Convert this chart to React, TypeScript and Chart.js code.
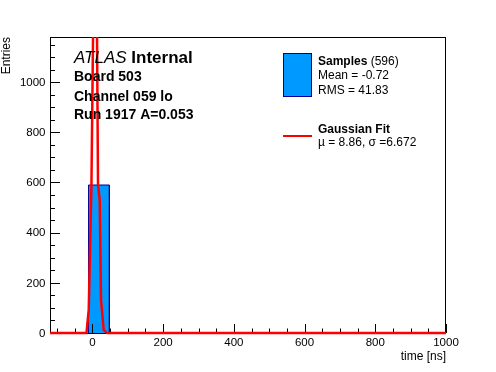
import React, { useEffect, useRef } from "react";
import { Chart, registerables } from "chart.js";

Chart.register(...registerables);

// Histogram bins (time in ns)
const binLow = [-11];
const binHigh = [48];
const binCounts = [590];

// Axis ranges & ticks
const xMin = -120;
const xMax = 1000;
const yMin = 0;
const yMax = 1180;
const xMajorStep = 200;
const xMinorStep = 50;
const yMajorStep = 200;
const yMinorStep = 50;
const yTickLabels = ["0", "200", "400", "600", "800", "1000"];

// Gaussian fit curve
const fitX = [-120, -16.9, -10.5, -6.8, -2.8, 1.7, 8.86, 13, 15.8, 20.6, 24.3, 31.9, 41.2, 1000];
const fitY = [0, 0, 92, 330, 590, 1180, 2000, 1180, 590, 530, 131, 12, 0, 0];

// Texts
const atlasLabel = "ATLAS";
const internalLabel = "Internal";
const infoLines = ["Board 503", "Channel 059 lo", "Run 1917 A=0.053"];
const samplesTitle = "Samples";
const samplesCount = " (596)";
const samplesStats = ["Mean = -0.72", "RMS = 41.83"];
const fitTitle = "Gaussian Fit";
const fitStats = "\u00b5 = 8.86, \u03c3 =6.672";
const xTitle = "time [ns]";
const yTitle = "Entries";

const FONT = "'Liberation Sans', Arial, Helvetica, sans-serif";
const BAR_FILL = "#0099ff";
const BAR_EDGE = "#000099";
const FIT_COLOR = "#ff0000";

function histPoints() {
  const pts: { x: number; y: number }[] = [{ x: xMin, y: 0 }];
  for (let i = 0; i < binCounts.length; i++) {
    pts.push({ x: binLow[i], y: 0 });
    pts.push({ x: binLow[i], y: binCounts[i] });
    pts.push({ x: binHigh[i], y: binCounts[i] });
    pts.push({ x: binHigh[i], y: 0 });
  }
  pts.push({ x: xMax, y: 0 });
  return pts;
}

const framePlugin = {
  id: "rootFrame",
  afterDatasetDraw(chart: any, args: any) {
    if (args.index !== 0) return;
    const ctx = chart.ctx;
    const { left, right, top, bottom } = chart.chartArea;
    const xs = chart.scales.x;
    const ys = chart.scales.y;
    ctx.save();
    ctx.strokeStyle = "#000";
    ctx.lineWidth = 1;
    ctx.strokeRect(left + 0.5, top + 0.5, right - left - 1, bottom - top);
    ctx.beginPath();
    for (let v = Math.ceil(xMin / xMinorStep) * xMinorStep; v <= xMax; v += xMinorStep) {
      const px = Math.round(xs.getPixelForValue(v)) + 0.5;
      const len = v % xMajorStep === 0 ? 9 : 4.5;
      ctx.moveTo(px, bottom);
      ctx.lineTo(px, bottom - len);
    }
    for (let v = yMin; v <= yMax; v += yMinorStep) {
      const py = Math.round(ys.getPixelForValue(v)) + 0.5;
      const len = v % yMajorStep === 0 ? 10 : 5;
      ctx.moveTo(left, py);
      ctx.lineTo(left + len, py);
    }
    ctx.stroke();
    ctx.restore();
  },
  afterDraw(chart: any) {
    const ctx = chart.ctx;
    const { left, right } = chart.chartArea;
    const ys = chart.scales.y;
    ctx.save();
    ctx.fillStyle = "#000";

    // y tick labels
    ctx.font = `11.5px ${FONT}`;
    ctx.textAlign = "right";
    ctx.textBaseline = "middle";
    yTickLabels.forEach((t) => {
      ctx.fillText(t, left - 4.5, ys.getPixelForValue(Number(t)) + 0.5);
    });

    ctx.textBaseline = "alphabetic";
    ctx.textAlign = "left";
    ctx.font = `italic 17px ${FONT}`;
    ctx.fillText(atlasLabel, 74, 63);
    const w1 = ctx.measureText(atlasLabel + " ").width;
    ctx.font = `bold 17px ${FONT}`;
    ctx.fillText(internalLabel, 74 + w1, 63);
    ctx.font = `bold 14px ${FONT}`;
    const baselines = [81, 100.5, 119];
    infoLines.forEach((t, i) => ctx.fillText(t, 74, baselines[i]));

    ctx.fillStyle = BAR_FILL;
    ctx.fillRect(283.5, 53.5, 28, 43);
    ctx.strokeStyle = BAR_EDGE;
    ctx.lineWidth = 1;
    ctx.strokeRect(283.5, 53.5, 28, 43);
    ctx.fillStyle = "#000";
    ctx.font = `bold 12px ${FONT}`;
    ctx.fillText(samplesTitle, 318, 65);
    const w2 = ctx.measureText(samplesTitle).width;
    ctx.font = `12px ${FONT}`;
    ctx.fillText(samplesCount, 318 + w2, 65);
    ctx.fillText(samplesStats[0], 318, 79);
    ctx.fillText(samplesStats[1], 318, 94);

    ctx.strokeStyle = FIT_COLOR;
    ctx.lineWidth = 2;
    ctx.beginPath();
    ctx.moveTo(283, 136);
    ctx.lineTo(312, 136);
    ctx.stroke();
    ctx.font = `bold 12px ${FONT}`;
    ctx.fillText(fitTitle, 318, 133);
    ctx.font = `12px ${FONT}`;
    ctx.fillText(fitStats, 318, 146);

    ctx.font = `12px ${FONT}`;
    ctx.textAlign = "right";
    ctx.fillText(xTitle, right, 360);
    ctx.translate(10, 37);
    ctx.rotate(-Math.PI / 2);
    ctx.fillText(yTitle, 0, 0);
    ctx.restore();
  },
};

export default function App() {
  const ref = useRef<HTMLCanvasElement | null>(null);
  useEffect(() => {
    if (!ref.current) return;
    const chart = new Chart(ref.current, {
      type: "line",
      data: {
        datasets: [
          {
            label: "Samples",
            data: histPoints(),
            borderColor: BAR_EDGE,
            backgroundColor: BAR_FILL,
            borderWidth: 1,
            fill: "origin",
            pointRadius: 0,
            tension: 0,
            order: 2,
          },
          {
            label: "Gaussian Fit",
            data: fitX.map((x, i) => ({ x, y: fitY[i] })),
            borderColor: FIT_COLOR,
            borderWidth: 2.5,
            fill: false,
            pointRadius: 0,
            tension: 0,
            order: 1,
            clip: { left: 0, top: 0, right: 0, bottom: 4 },
          },
        ],
      },
      options: {
        responsive: false,
        animation: false,
        events: [],
        layout: { padding: { top: 37, right: 50, left: 0, bottom: 0 } },
        plugins: { legend: { display: false }, tooltip: { enabled: false } },
        scales: {
          x: {
            type: "linear",
            min: xMin,
            max: xMax,
            grid: { display: false, drawTicks: false },
            border: { display: false },
            ticks: {
              stepSize: xMajorStep,
              autoSkip: false,
              color: "#000",
              padding: 3,
              maxRotation: 0,
              font: { family: FONT, size: 11.5 },
              callback: (v: any) => (Number(v) % xMajorStep === 0 ? String(v) : ""),
            },
            afterFit: (s: any) => {
              s.height = 39;
            },
          },
          y: {
            type: "linear",
            min: yMin,
            max: yMax,
            grid: { display: false, drawTicks: false },
            border: { display: false },
            ticks: { display: false, stepSize: yMajorStep },
            afterFit: (s: any) => {
              s.width = 50;
            },
          },
        },
      },
      plugins: [framePlugin],
    } as any);
    return () => chart.destroy();
  }, []);
  return (
    <div style={{ position: "absolute", left: 0, top: 0, width: 496, height: 372, background: "#fff" }}>
      <canvas ref={ref} width={496} height={372} style={{ display: "block" }} />
    </div>
  );
}
